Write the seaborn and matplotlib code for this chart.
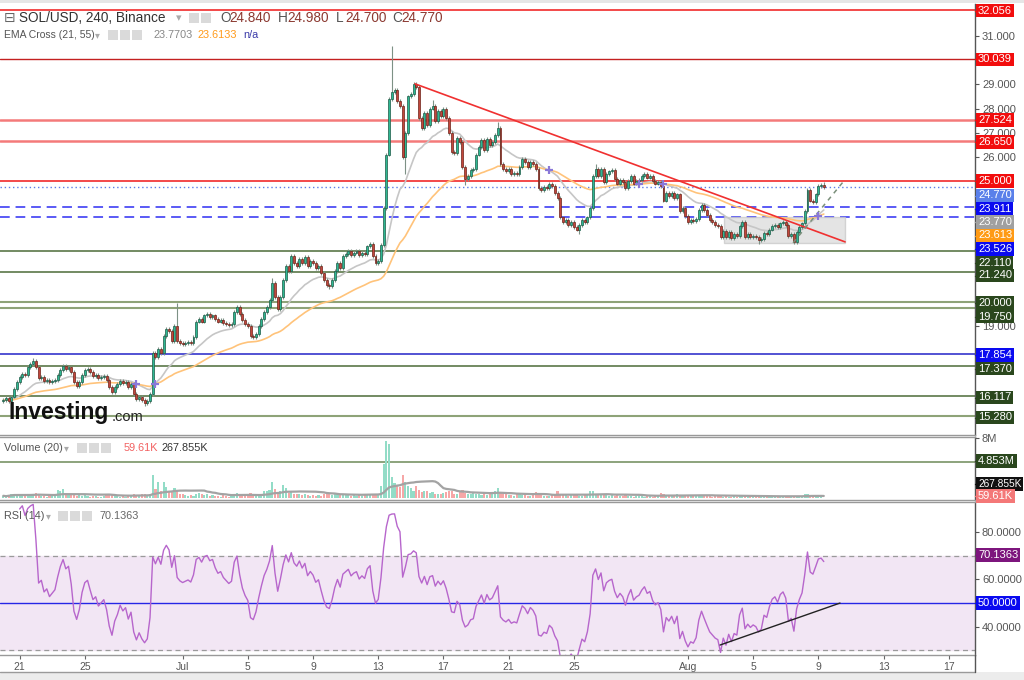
import numpy as np
import pandas as pd
import matplotlib
matplotlib.use("Agg")
import matplotlib.pyplot as plt
from matplotlib.patches import Rectangle
from matplotlib.lines import Line2D
import seaborn as sns

# ---------------- data (4-hour candles from Jun 20, 6 per day) ----------------
closes_jun = [
    15.95, 16.05, 15.9, 16.1, 16.4, 16.7,
    16.9, 17.05, 17.0, 17.3, 17.45, 17.55,
    17.3, 16.85, 16.9, 16.75, 16.8, 16.7,
    16.75, 16.8, 17.0, 17.2, 17.35, 17.25,
    17.3, 17.1, 16.7, 16.55, 16.7, 17.0,
    17.2, 17.25, 17.1, 16.95, 17.0, 16.85,
    16.9, 16.95, 16.8, 16.5, 16.3, 16.5,
    16.6, 16.75, 16.65, 16.7, 16.5, 16.6,
    16.2, 16.0, 16.1, 15.95, 15.85, 15.9,
    16.2, 17.9, 17.75, 18.05, 17.9, 18.6,
    18.9, 18.8, 18.4, 19.0, 18.4, 18.3,
]
closes_jul = [
    18.25, 18.3, 18.35, 18.3, 18.55, 19.2,
    19.3, 19.2, 19.45, 19.5, 19.4, 19.45,
    19.3, 19.2, 19.25, 19.15, 19.1, 19.05,
    19.1, 19.6, 19.8, 19.5, 19.25, 19.1,
    19.0, 18.6, 18.55, 18.7, 19.0, 19.3,
    19.6, 19.8, 20.1, 20.8, 20.2, 19.7,
    20.2, 20.9, 21.5, 21.3, 21.9, 21.6,
    21.5, 21.8, 21.6, 21.85, 21.5, 21.7,
    21.6, 21.4, 21.5, 21.2, 20.9, 20.7,
    20.65, 20.9, 21.3, 21.6, 21.4, 21.9,
    22.0, 22.1, 21.95, 22.05, 22.1, 21.95,
    22.05, 22.0, 22.3, 22.4, 21.9, 21.6,
    21.7, 22.35, 23.9, 26.1, 28.4, 28.7,
    28.75, 28.3, 28.1, 26.0, 27.0, 28.5,
    28.6, 29.0, 28.9, 27.6, 27.2, 27.8,
    27.3, 28.0, 28.1, 27.5, 27.9, 27.7,
    28.0, 27.6, 27.0, 26.2, 26.15, 26.8,
    26.6, 25.6, 25.1, 25.2, 25.45, 25.5,
    26.1, 26.4, 26.7, 26.3, 26.75, 26.5,
    26.6, 26.9, 27.2, 25.7, 25.5, 25.4,
    25.5, 25.3, 25.35, 25.3, 25.6, 25.9,
    25.8, 25.6, 25.8, 25.7, 25.5, 24.7,
    24.65, 24.75, 24.7, 24.9, 24.8, 24.5,
    24.3, 23.5, 23.3, 23.4, 23.2, 23.3,
    23.1, 23.0, 23.2, 23.4, 23.3, 23.5,
    23.9, 25.2, 25.5, 25.2, 25.5, 24.95,
    25.3, 25.4, 25.45, 25.1, 24.9, 25.05,
    24.95, 24.7, 25.0, 25.2, 24.9, 25.0,
    25.05, 25.2, 25.3, 25.15, 25.2, 25.0,
    24.9, 24.95, 24.8, 24.2, 24.5, 24.4,
    24.5, 24.3, 24.45, 23.75, 23.9, 23.55,
]
closes_aug = [
    23.3, 23.4, 23.35, 23.45, 23.8, 24.0,
    23.8, 23.6, 23.4, 23.3, 23.2, 23.15,
    22.7, 22.95, 22.7, 22.9, 22.65, 22.8,
    22.75, 23.15, 23.3, 22.7, 22.8, 22.7,
    22.75, 22.7, 22.55, 22.6, 22.85, 22.8,
    23.0, 23.15, 23.2, 23.1, 23.25, 23.3,
    23.2, 22.75, 22.8, 22.5, 22.9, 23.1,
    23.25, 23.75, 24.65, 24.2, 24.15, 24.45,
    24.8, 24.84, 24.77,
]
first_open = 15.9

# notable wick extremes (candle index -> price)
wick_highs = {11: 17.7, 64: 19.95, 99: 21.0, 143: 30.6, 151: 29.1, 158: 28.35,
              182: 27.45, 218: 25.7, 237: 25.35, 302: 24.98}
wick_lows = {52: 15.7, 120: 20.55, 148: 25.3, 170: 24.85, 212: 22.8,
             278: 22.4, 291: 22.4, 302: 24.70}

# volume in millions
volumes_jun = [
    .3, .2, .4, .5, .6, .4,
    .5, .4, .3, .5, .4, .6,
    .7, .5, .3, .3, .2, .3,
    .3, .4, 1.1, .9, 1.2, .5,
    .4, .6, .5, .3, .4, .3,
    .4, .3, .2, .3, .3, .2,
    .2, .3, .4, .5, .6, .3,
    .3, .2, .3, .2, .4, .3,
    .5, .4, .3, .5, .6, .4,
    .6, 3.1, 1.2, 2.1, 1.0, 2.1,
    1.5, 1.0, .8, 1.4, .9, .6,
]
volumes_jul = [
    .5, .4, .3, .4, .3, .6,
    .7, .5, .4, .5, .3, .4,
    .3, .3, .2, .4, .3, .2,
    .3, .6, .7, .5, .4, .3,
    .4, .7, .5, .3, .4, .6,
    .9, 1.0, 1.1, 2.2, 1.2, .8,
    1.0, 1.7, 1.4, .7, .9, .6,
    .5, .6, .4, .5, .4, .3,
    .4, .3, .4, .3, .5, .6,
    .5, .4, .6, .7, .5, .6,
    .5, .4, .3, .4, .3, .4,
    .3, .5, .4, .6, .5, .4,
    .6, 1.6, 4.5, 7.6, 7.2, 2.8,
    2.0, 1.8, 1.5, 3.0, 2.1, 1.6,
    1.4, 1.0, 1.6, 1.1, .8, .9,
    .9, .7, .8, .6, .5, .6,
    .7, .8, 1.0, .9, .6, .5,
    .9, 1.1, .7, .6, .5, .8,
    .6, .5, .4, .5, .4, .5,
    .6, .9, 1.3, .8, .6, .5,
    .4, .4, .3, .5, .5, .4,
    .4, .3, .3, .4, .8, .5,
    .4, .3, .3, .3, .4, .5,
    .9, .6, .4, .4, .3, .4,
    .5, .4, .3, .3, .4, .6,
    1.0, .9, .6, .5, .4, .4,
    .4, .3, .4, .3, .4, .3,
    .3, .4, .3, .3, .2, .3,
    .3, .3, .2, .3, .3, .2,
    .3, .3, .7, .5, .4, .3,
    .3, .3, .5, .4, .4, .3,
]
volumes_aug = [
    .4, .3, .3, .4, .4, .3,
    .3, .3, .3, .2, .3, .4,
    .3, .2, .3, .2, .2, .3,
    .2, .3, .4, .3, .2, .2,
    .2, .3, .2, .2, .3, .2,
    .2, .2, .2, .2, .2, .2,
    .3, .3, .2, .2, .3, .3,
    .3, .6, .5, .3, .4, .3,
    .3, .2, .06,
]

tick_days = [1, 5, 11, 15, 19, 23, 27, 31, 35, 42, 46, 50, 54, 58]
tick_labels = ["21", "25", "Jul", "5", "9", "13", "17", "21", "25", "Aug", "5", "9", "13", "17"]

levels_red = [32.056, 30.039, 27.524, 26.650, 25.000]
levels_blue_dash = [23.911, 23.526]
level_blue = 17.854
levels_green = [22.110, 21.240, 20.000, 19.750, 17.370, 16.117, 15.280]
last_price = 24.770
volume_level = 4.853

trend_t = [25.26, 51.64]
trend_p = [29.02, 22.49]
support_t = [48.45, 51.52]
support_p = [22.45, 24.97]
box_t = [44.2, 51.64]
box_p = [22.45, 23.52]
rsi_trend_t = [43.97, 51.33]
rsi_trend_v = [32.3, 50.0]

# ---------------- derived series ----------------
closes = np.array(closes_jun + closes_jul + closes_aug, dtype=float)
volumes = np.array(volumes_jun + volumes_jul + volumes_aug, dtype=float)
n = len(closes)
t = np.arange(n) / 6.0
opens = np.r_[first_open, closes[:-1]]
highs = np.maximum(opens, closes) + 0.08
lows = np.minimum(opens, closes) - 0.08
for k, v in wick_highs.items():
    highs[k] = max(highs[k], v)
for k, v in wick_lows.items():
    lows[k] = min(lows[k], v)
up = closes >= opens

s = pd.Series(closes)
ema21 = s.ewm(span=21, adjust=False).mean().values
ema55 = s.ewm(span=55, adjust=False).mean().values
delta = s.diff().fillna(0)
gain = delta.clip(lower=0).ewm(alpha=1 / 14, adjust=True).mean()
loss = (-delta.clip(upper=0)).ewm(alpha=1 / 14, adjust=True).mean()
rsi = (100 - 100 / (1 + gain / loss.replace(0, np.nan))).values
vol_ma = pd.Series(volumes).rolling(20, min_periods=1).mean().values

# ---------------- figure ----------------
sns.set_theme(style="white")
plt.rcParams["font.family"] = ["Liberation Sans", "DejaVu Sans"]
W, H = 1024, 680
fig = plt.figure(figsize=(W / 100, H / 100), dpi=100)
fig.patch.set_facecolor("white")


def fx(x):
    return x / W


def fy(y):
    return 1 - y / H


RIGHT = 975 / W
axP = fig.add_axes([0, fy(435), RIGHT, fy(4) - fy(435)])
axV = fig.add_axes([0, fy(500), RIGHT, fy(437) - fy(500)], sharex=axP)
axR = fig.add_axes([0, fy(655), RIGHT, fy(502) - fy(655)], sharex=axP)

for ax in (axP, axV, axR):
    ax.set_facecolor("white")
    ax.grid(False)
    ax.spines["left"].set_visible(False)
    ax.spines["right"].set_color("#555555")
    ax.spines["top"].set_color("#999999")
    ax.spines["bottom"].set_color("#999999")
    for sp in ax.spines.values():
        sp.set_linewidth(1)
    ax.yaxis.tick_right()
    ax.tick_params(axis="y", colors="#555555", labelcolor="#555555", labelsize=8,
                   length=3, width=0.8, pad=2, direction="out")
axP.spines["top"].set_visible(False)

axP.set_xlim(-0.2025, 59.61)
axP.set_ylim(14.51, 32.32)
axV.set_ylim(-0.26, 8.12)
axR.set_ylim(28.1, 92.6)

# price levels
for lv in levels_red:
    if lv in (27.524, 26.650):
        axP.axhline(lv, color="#f47a7a", lw=1.8, zorder=1)
    elif lv == 30.039:
        axP.axhline(lv, color="#c42020", lw=1.0, zorder=1)
    else:
        axP.axhline(lv, color="#f01818", lw=1.1, zorder=1)
for lv in levels_blue_dash:
    axP.axhline(lv, color="#5a5af5", lw=1.4, ls=(0, (5, 3)), zorder=1)
axP.axhline(last_price, color="#5a7de8", lw=1, ls=(0, (1, 2)), zorder=1)
axP.axhline(level_blue, color="#2323c8", lw=1.1, zorder=1)
for lv in levels_green:
    if lv in (20.000, 19.750, 15.280):
        axP.axhline(lv, color="#8ea378", lw=1.5, zorder=1)
    else:
        axP.axhline(lv, color="#4b6b38", lw=1.1, zorder=1)

# drawings
axP.add_patch(Rectangle((box_t[0], box_p[0]), box_t[1] - box_t[0], box_p[1] - box_p[0],
                        facecolor="#dcdcdc", edgecolor="#c8c8c8", alpha=0.75, zorder=1.5))
axP.plot(trend_t, trend_p, color="#f03030", lw=1.2, zorder=4)
axP.plot(support_t, support_p, color="#7a8f7a", lw=1.1, ls=(0, (3, 3)), zorder=4)

# EMAs
sns.lineplot(x=t, y=ema21, ax=axP, color="#c6c6c6", linewidth=1.2, zorder=2)
sns.lineplot(x=t, y=ema55, ax=axP, color="#ffc37a", linewidth=1.2, zorder=2)
diff = ema21 - ema55
cross = np.where((np.sign(diff[1:]) != np.sign(diff[:-1])) & (np.arange(1, n) > 5))[0] + 1
axP.plot(t[cross], ((ema21 + ema55) / 2)[cross], ls="none", marker="+", ms=6, mew=1.6,
         color="#8a78d8", zorder=5)

# candles
bw = 0.12
axP.vlines(t, lows, highs, color="#7d9185", lw=0.8, zorder=2.5)
body_lo = np.minimum(opens, closes)
body_h = np.maximum(np.abs(closes - opens), 0.02)
axP.bar(t[up], body_h[up], bottom=body_lo[up], width=bw, color="#2eb892",
        edgecolor="#1d5a47", linewidth=0.5, zorder=3)
axP.bar(t[~up], body_h[~up], bottom=body_lo[~up], width=bw, color="#c2473c",
        edgecolor="#6c2218", linewidth=0.5, zorder=3)

axP.set_yticks([19, 26, 27, 28, 29, 31])
axP.set_yticklabels([f"{v:.3f}" for v in [19, 26, 27, 28, 29, 31]])
axP.tick_params(axis="x", bottom=False, labelbottom=False)
axP.set_ylabel("")

# volume
vcol = np.where(up, "#93dcc7", "#f6a7a7")
axV.bar(t, volumes, width=0.13, color=vcol, linewidth=0, zorder=2)
sns.lineplot(x=t, y=vol_ma, ax=axV, color="#a3a3a3", linewidth=1.6, zorder=3)
axV.axhline(volume_level, color="#6d8a58", lw=1.1, zorder=1)
axV.set_yticks([8])
axV.set_yticklabels(["8M"])
axV.tick_params(axis="x", bottom=False, labelbottom=False)
axV.set_ylabel("")

# RSI
axR.axhspan(30, 70, color="#f2e6f4", zorder=0)
axR.axhline(70, color="#9a9a9a", lw=0.9, ls=(0, (4, 3)), zorder=1)
axR.axhline(30, color="#9a9a9a", lw=0.9, ls=(0, (4, 3)), zorder=1)
axR.axhline(50, color="#2626e6", lw=1.0, zorder=1)
sns.lineplot(x=t[6:], y=rsi[6:], ax=axR, color="#b766cc", linewidth=1.0, zorder=3)
axR.plot(rsi_trend_t, rsi_trend_v, color="#222222", lw=1.0, zorder=4)
axR.set_yticks([40, 60, 80])
axR.set_yticklabels(["40.0000", "60.0000", "80.0000"])
axR.set_xticks(tick_days)
axR.set_xticklabels(tick_labels)
axR.tick_params(axis="x", colors="#666666", labelcolor="#555555", labelsize=7.5,
                length=3, width=0.8, pad=2, bottom=True, direction="out")
axR.set_ylabel("")
axR.set_xlabel("")

# ---------------- chrome ----------------
fig.add_artist(Rectangle((0, fy(3)), 1, fy(0) - fy(3), transform=fig.transFigure,
                         facecolor="#e6e6e6", edgecolor="none"))
fig.add_artist(Rectangle((0, 0), 1, fy(672), transform=fig.transFigure,
                         facecolor="#ececec", edgecolor="none"))
fig.add_artist(Line2D([0, RIGHT], [fy(672), fy(672)], transform=fig.transFigure,
                      color="#9a9a9a", lw=1))
fig.add_artist(Line2D([RIGHT, RIGHT], [fy(655), fy(672)], transform=fig.transFigure,
                      color="#555555", lw=1))


def gray_boxes(x0, y, count):
    for i in range(count):
        fig.add_artist(Rectangle((fx(x0 + i * 12), fy(y + 5)), fx(10), fy(y - 5) - fy(y + 5),
                                 transform=fig.transFigure, facecolor="#dadada",
                                 edgecolor="none"))


def txt(x, y, s, color="#555555", size=8, **kw):
    fig.text(fx(x), fy(y), s, color=color, fontsize=size, va="center", ha="left", **kw)


# header line 1
txt(4, 18, "\u229f", color="#666666", size=10, family=["DejaVu Sans"])
txt(19, 18, "SOL/USD, 240, Binance", color="#333333", size=9.8)
txt(176, 18, "\u25be", color="#aaaaaa", size=8, family=["DejaVu Sans"])
gray_boxes(189, 18, 2)
for x0, letter, val in [(220, "O", "24.840"), (278, "H", "24.980"),
                        (336, "L", "24.700"), (392, "C", "24.770")]:
    txt(x0, 18, letter, color="#555555", size=9.8)
    txt(x0 + 9, 18, val, color="#8c3a32", size=9.8)
# header line 2
txt(4, 35, "EMA Cross (21, 55)", color="#555555", size=7.5)
txt(95, 35, "\u25be", color="#aaaaaa", size=7, family=["DejaVu Sans"])
gray_boxes(108, 35, 3)
txt(153, 35, "23.7703", color="#888888", size=7.8)
txt(197, 35, "23.6133", color="#ff9a1a", size=7.8)
txt(243, 35, "n/a", color="#3a3aa8", size=7.8)
# volume header
txt(4, 448, "Volume (20)", color="#555555", size=7.8)
txt(64, 448, "\u25be", color="#aaaaaa", size=7, family=["DejaVu Sans"])
gray_boxes(77, 448, 3)
txt(124, 448, "59.61K", color="#f26060", size=7.8)
txt(162, 448, "267.855K", color="#333333", size=7.8)
# rsi header
txt(4, 516, "RSI (14)", color="#555555", size=7.8)
txt(46, 516, "\u25be", color="#aaaaaa", size=7, family=["DejaVu Sans"])
gray_boxes(58, 516, 3)
txt(100, 516, "70.1363", color="#666666", size=7.8)

# watermark
txt(9, 413, "Investing", color="#111111", size=16.5, weight="bold")
txt(112, 417, ".com", color="#222222", size=10.5)

# right axis colored labels (y pixel, text, background)
right_labels = [
    (10.5, "32.056", "#f20d0d"), (59.3, "30.039", "#f20d0d"), (120.2, "27.524", "#f20d0d"),
    (141.8, "26.650", "#f20d0d"), (181.2, "25.000", "#f20d0d"), (195.5, "24.770", "#5a80ea"),
    (208.5, "23.911", "#0a0af0"), (222, "23.770", "#a0a0a0"), (235.5, "23.613", "#ff9a14"),
    (249, "23.526", "#0a0af0"), (262.5, "22.110", "#2a471d"), (275.5, "21.240", "#2a471d"),
    (303, "20.000", "#2a471d"), (316.5, "19.750", "#2a471d"), (355, "17.854", "#0a0af0"),
    (368.5, "17.370", "#2a471d"), (397.5, "16.117", "#2a471d"), (417.5, "15.280", "#2a471d"),
    (461, "4.853M", "#2a471d"), (484, "267.855K", "#111111"), (496, "59.61K", "#f47878"),
    (555, "70.1363", "#7d157d"), (603, "50.0000", "#0a0af0"),
]
for yp, s, bg in right_labels:
    fig.add_artist(Line2D([RIGHT, fx(978)], [fy(yp), fy(yp)], transform=fig.transFigure,
                          color=bg, lw=1))
    size = 7.3 if len(s) > 7 else 8
    fig.text(fx(978), fy(yp), s, color="white", fontsize=size, va="center", ha="left",
             bbox=dict(boxstyle="square,pad=0.16", facecolor=bg, edgecolor="none"),
             zorder=6)

fig.savefig("out.png", dpi=100, facecolor="white")
